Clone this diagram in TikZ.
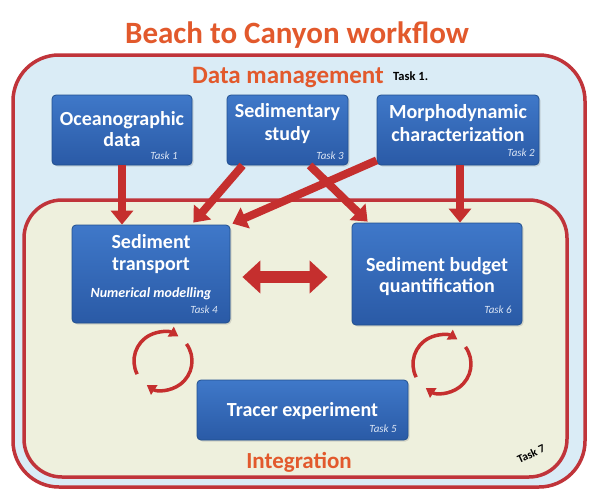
\documentclass[tikz,border=0pt]{standalone}
\usepackage{fontspec}
\setmainfont{Carlito}
\usetikzlibrary{arrows.meta,calc,shadows}
\definecolor{ttl}{HTML}{E2592C}
\definecolor{bord}{HTML}{C0343A}
\definecolor{outerfill}{HTML}{DAECF6}
\definecolor{innerfill}{HTML}{EEF0DD}
\definecolor{boxtop}{HTML}{3F78C9}
\definecolor{boxbot}{HTML}{2A5AA6}
\definecolor{boxline}{HTML}{21508F}
\definecolor{arr}{HTML}{C52F2E}
\definecolor{tasktxt}{HTML}{DCE6F5}
\begin{document}
\begin{tikzpicture}[x=1pt,y=-1pt,
  bluebox/.style={draw=boxline, line width=0.8pt, top color=boxtop, bottom color=boxbot,
    rounded corners=4pt, inner sep=0pt,
    drop shadow={opacity=0.25, shadow xshift=1.5pt, shadow yshift=-1.5pt}},
  boxtext/.style={text=white, font=\fontsize{20}{22}\selectfont\bfseries, anchor=base, inner sep=0pt},
  tasklbl/.style={text=tasktxt, font=\fontsize{11}{12}\selectfont\itshape, anchor=base east, inner sep=0pt},
  blockarrow/.style={draw=arr, line width=8pt, -{Triangle[length=14pt,width=22pt]}},
  dblarrow/.style={draw=arr, line width=12pt, {Triangle[length=18pt,width=32pt]}-{Triangle[length=18pt,width=32pt]}},
  cyclearrow/.style={draw=arr, line width=3.5pt, -{Triangle[length=9pt,width=11pt]}},
  heading/.style={text=ttl, font=\bfseries, anchor=base, inner sep=0pt},
  frame/.style={draw=bord, line width=3.5pt}
]
\useasboundingbox (0,0) rectangle (595,490);
\fill[white] (0,0) rectangle (595,490);

% frames
\draw[frame, fill=outerfill, rounded corners=46pt] (13,55) rectangle (585,487);
\draw[frame, fill=innerfill, rounded corners=38pt] (24,200) rectangle (567,477);

% headings
\node[heading, font=\fontsize{31}{34}\selectfont\bfseries] (title) at (297,43) {Beach to Canyon workflow};
\node[heading, font=\fontsize{25}{28}\selectfont\bfseries] (dm) at (288,83) {Data management};
\node[anchor=base west, inner sep=0pt, font=\fontsize{12.5}{14}\selectfont\bfseries] (t1) at (393,80) {Task 1.};
\node[heading, font=\fontsize{23}{26}\selectfont\bfseries] (integ) at (299,468) {Integration};
\node[inner sep=0pt, rotate=25, font=\fontsize{11.5}{13}\selectfont\bfseries] (t7) at (531,454) {Task 7};

% boxes
\node[bluebox, minimum width=140pt, minimum height=70pt] (ocean) at (122,130) {};
\node[bluebox, minimum width=121pt, minimum height=70pt] (sedi) at (287.5,130) {};
\node[bluebox, minimum width=162pt, minimum height=70pt] (morph) at (458,130) {};
\node[bluebox, minimum width=158pt, minimum height=98pt] (trans) at (151,274) {};
\node[bluebox, minimum width=170pt, minimum height=102pt] (budget) at (437,274) {};
\node[bluebox, minimum width=211pt, minimum height=60pt] (tracer) at (302.5,410) {};

% box texts
\node[boxtext] (ocean1) at (122,125) {Oceanographic};
\node[boxtext] (ocean2) at (122,146) {data};
\node[tasklbl] (ocean3) at (178,159) {Task 1};
\node[boxtext] (sedi1) at (287.5,117) {Sedimentary};
\node[boxtext] (sedi2) at (287.5,140) {study};
\node[tasklbl] (sedi3) at (344,159) {Task 3};
\node[boxtext] (morph1) at (458,118) {Morphodynamic};
\node[boxtext] (morph2) at (458,141) {characterization};
\node[tasklbl] (morph3) at (535,156) {Task 2};
\node[boxtext] (trans1) at (151,248) {Sediment};
\node[boxtext] (trans2) at (151,270) {transport};
\node[boxtext, font=\fontsize{14}{16}\selectfont\bfseries\itshape] (trans3) at (151,297) {Numerical modelling};
\node[tasklbl] (trans4) at (218,313) {Task 4};
\node[boxtext] (budget1) at (437,271) {Sediment budget};
\node[boxtext] (budget2) at (437,292) {quantification};
\node[tasklbl] (budget3) at (512,313) {Task 6};
\node[boxtext] (tracer1) at (302.5,416) {Tracer experiment};
\node[tasklbl] (tracer2) at (397,432) {Task 5};

% arrows
\coordinate (mA) at ($(morph.south)+(2,0)$);
\draw[blockarrow] (ocean.south) -- (ocean.south |- trans.north);
\draw[blockarrow] ($(sedi.south west)+(16,0)$) -- ($(trans.north east)+(-37,-2)$);
\draw[blockarrow] ($(sedi.south west)+(83,0)$) -- ($(budget.north west)+(16,-1)$);
\draw[blockarrow] ($(morph.south west)+(0,-5)$) -- ($(trans.north east)+(2,-1)$);
\draw[blockarrow] (mA) -- (mA |- budget.north);
\draw[dblarrow] ($(trans.east)+(12,3)$) -- ($(budget.west)+(-24,3)$);

% cycle arrows
\coordinate (cL) at (163,361);
\coordinate (cR) at (442,364);
\draw[cyclearrow] (cL) ++(153:29) arc[start angle=153, end angle=302, radius=29];
\draw[cyclearrow] (cL) ++(-36:29) arc[start angle=-36, end angle=124, radius=29];
\draw[cyclearrow] (cR) ++(153:29) arc[start angle=153, end angle=302, radius=29];
\draw[cyclearrow] (cR) ++(-36:29) arc[start angle=-36, end angle=124, radius=29];
\end{tikzpicture}
\end{document}
